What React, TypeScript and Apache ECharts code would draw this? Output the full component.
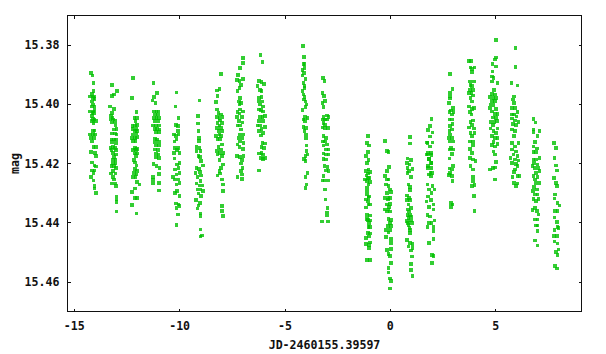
import React, { useEffect, useRef } from "react";
import * as echarts from "echarts";

const xTicks = [-15, -10, -5, 0, 5];
const yTicks = [15.38, 15.4, 15.42, 15.44, 15.46];

const night01 = [[-14.2,15.3894],[-14.14,15.3903],[-14.09,15.3928],[-14.09,15.3956],[-14.15,15.3965],[-14.25,15.3973],[-14.07,15.3973],[-14.12,15.3979],[-14.04,15.3982],[-14.17,15.399],[-14.12,15.4001],[-14.04,15.4007],[-14.17,15.4007],[-14.25,15.4024],[-14.09,15.4024],[-14.04,15.4018],[-14.14,15.4029],[-14.06,15.4029],[-14.17,15.404],[-14.12,15.4049],[-14.04,15.4052],[-14.17,15.4057],[-13.98,15.4057],[-14.09,15.4063],[-14.12,15.4091],[-14.03,15.4088],[-14.25,15.4102],[-14.12,15.4102],[-14.01,15.4102],[-14.2,15.4114],[-14.06,15.4114],[-14.17,15.4125],[-14.09,15.4144],[-13.98,15.4144],[-14.2,15.4162],[-14.01,15.4165],[-13.98,15.4174],[-14.15,15.4196],[-14.04,15.4207],[-13.98,15.421],[-14.15,15.4224],[-14.04,15.4224],[-14.09,15.4232],[-14.2,15.4245],[-14.09,15.4257],[-14.03,15.4277],[-14.03,15.4285],[-13.98,15.4299]];
const night02 = [[-13.2,15.3935],[-12.96,15.3956],[-13.12,15.3967],[-13.2,15.3971],[-13.31,15.4007],[-13.1,15.4016],[-13.2,15.4029],[-13.26,15.404],[-13.18,15.4046],[-13.28,15.4052],[-13.15,15.4052],[-13.2,15.4061],[-13.07,15.4057],[-13.04,15.4069],[-13.1,15.4085],[-12.99,15.4083],[-13.2,15.4099],[-13.07,15.4099],[-12.99,15.4102],[-13.23,15.4119],[-13.1,15.4119],[-13.02,15.4119],[-13.2,15.4128],[-13.02,15.413],[-13.28,15.4147],[-13.15,15.4144],[-13.07,15.4147],[-13.23,15.4155],[-13.02,15.4155],[-13.15,15.4164],[-13.02,15.417],[-13.1,15.4178],[-13.15,15.4187],[-13.04,15.4189],[-13.15,15.4198],[-13.04,15.42],[-13.23,15.4209],[-13.1,15.4209],[-13.02,15.4215],[-13.15,15.4226],[-13.26,15.4234],[-13.04,15.4234],[-13.15,15.4245],[-13.1,15.4254],[-13.23,15.4268],[-13.07,15.4268],[-13.02,15.4277],[-12.99,15.4312],[-12.99,15.4321],[-12.99,15.433],[-12.99,15.4362]];
const night03 = [[-12.2,15.3912],[-12.25,15.3979],[-12.04,15.4027],[-12.15,15.4046],[-12.01,15.4046],[-12.09,15.4057],[-12.23,15.4074],[-12.12,15.4071],[-12.01,15.4069],[-12.2,15.4083],[-12.04,15.4083],[-12.12,15.4091],[-12.01,15.4091],[-12.2,15.4102],[-12.04,15.4099],[-12.25,15.4114],[-12.12,15.4114],[-12.01,15.411],[-12.2,15.4123],[-12.09,15.4123],[-12.12,15.4147],[-12.01,15.4151],[-12.2,15.4155],[-12.07,15.4155],[-12.12,15.4166],[-12.01,15.4166],[-12.07,15.4175],[-12.17,15.4189],[-12.12,15.4196],[-12.04,15.4207],[-12.12,15.4218],[-12.01,15.4226],[-12.17,15.4232],[-12.04,15.4237],[-12.2,15.4245],[-12.09,15.4245],[-12.01,15.4263],[-11.91,15.4271],[-12.12,15.4285],[-12.25,15.4297],[-12.12,15.4317],[-12.01,15.4317],[-12.25,15.4341],[-12.04,15.4369]];
const night04 = [[-11.23,15.3928],[-11.06,15.3962],[-11.21,15.3975],[-11.29,15.3987],[-11.15,15.3996],[-11.21,15.4024],[-11.09,15.4024],[-11.01,15.4024],[-11.17,15.4035],[-11.03,15.4035],[-11.21,15.4046],[-11.09,15.4046],[-10.99,15.4046],[-11.17,15.4057],[-11.01,15.4057],[-11.25,15.4071],[-11.12,15.4071],[-10.99,15.4071],[-11.17,15.4083],[-11.06,15.4083],[-10.96,15.4085],[-11.12,15.4094],[-10.99,15.4094],[-11.17,15.4116],[-11.06,15.4119],[-11.17,15.4128],[-10.99,15.4128],[-11.12,15.4139],[-10.98,15.4139],[-11.17,15.4153],[-11.03,15.4155],[-11.12,15.4166],[-11.01,15.417],[-11.12,15.4178],[-10.98,15.4181],[-11.23,15.4201],[-11.09,15.4209],[-10.96,15.4215],[-10.98,15.4235],[-11.25,15.4245],[-11.25,15.4256],[-11.25,15.4268],[-10.99,15.4266],[-10.99,15.4291]];
const night05 = [[-10.14,15.396],[-10.19,15.4007],[-10.06,15.4047],[-10.17,15.4069],[-10.09,15.4074],[-10.26,15.4102],[-10.09,15.4091],[-10.17,15.4108],[-10.06,15.4102],[-10.25,15.4125],[-10.14,15.4119],[-10.06,15.4147],[-10.22,15.4147],[-10.26,15.4164],[-10.11,15.4155],[-10.01,15.4164],[-10.25,15.4183],[-10.11,15.4203],[-10.01,15.4198],[-10.22,15.422],[-10.06,15.4215],[-10.3,15.4245],[-10.14,15.4237],[-10.01,15.4232],[-10.22,15.4254],[-10.06,15.4254],[-10.14,15.4271],[-10.01,15.4265],[-10.22,15.4299],[-10.11,15.4293],[-10.01,15.431],[-10.17,15.4335],[-10.06,15.4338],[-10.14,15.435],[-10.01,15.4344],[-10.09,15.4372],[-10.14,15.4408]];
const night06 = [[-9.05,15.3987],[-9.14,15.404],[-9.14,15.4065],[-9.11,15.4091],[-9.09,15.4114],[-9.09,15.4123],[-9.19,15.4144],[-9.06,15.4147],[-9,15.4158],[-9.19,15.4158],[-9.11,15.4175],[-9.03,15.4178],[-8.98,15.4192],[-8.9,15.4207],[-9.19,15.4215],[-9.08,15.4218],[-9.24,15.4232],[-9.03,15.4229],[-9.16,15.4245],[-8.98,15.4241],[-9,15.426],[-9.19,15.4268],[-9.06,15.4274],[-8.92,15.4274],[-9.16,15.4288],[-9,15.4288],[-8.9,15.4293],[-9.11,15.4301],[-8.98,15.431],[-9.22,15.4324],[-9.03,15.4333],[-9.11,15.4342],[-9.16,15.4352],[-9,15.4369],[-9,15.4378],[-9,15.4423],[-8.94,15.4443],[-9,15.4447]];
const night07 = [[-8.05,15.3898],[-8.11,15.3948],[-8.24,15.3953],[-8.2,15.3971],[-8.28,15.3992],[-8.24,15.4018],[-8.16,15.4029],[-8.05,15.4035],[-8.24,15.4043],[-8.11,15.4046],[-7.97,15.4043],[-8.08,15.4055],[-8.2,15.4063],[-8,15.4063],[-8.11,15.4072],[-8.24,15.408],[-8.05,15.408],[-8.16,15.4091],[-8,15.4091],[-8.27,15.4108],[-8.11,15.4102],[-8.03,15.4108],[-8.2,15.4117],[-8.08,15.4117],[-8,15.4136],[-8.16,15.4144],[-8.03,15.4153],[-8.24,15.4158],[-8.08,15.4164],[-7.92,15.4164],[-8.2,15.417],[-8,15.4175],[-8.11,15.4189],[-7.95,15.4203],[-8.05,15.4215],[-8.11,15.4226],[-8.2,15.4241],[-8.08,15.4234],[-8,15.4254],[-7.95,15.4271],[-7.95,15.4293],[-8,15.4344],[-8,15.4361],[-7.95,15.4378]];
const night08 = [[-7,15.3844],[-7,15.3861],[-7.13,15.3877],[-7.24,15.39],[-7,15.3915],[-7.29,15.3917],[-7.16,15.3922],[-7.08,15.3934],[-7.16,15.3945],[-7.26,15.3956],[-7.13,15.3979],[-7.18,15.399],[-7.08,15.3996],[-7.16,15.4001],[-7.13,15.4018],[-7.26,15.4027],[-7,15.4024],[-7.16,15.4031],[-7.29,15.4043],[-7.05,15.4043],[-7.18,15.4057],[-7.02,15.4061],[-7.26,15.4072],[-7.13,15.4072],[-7.08,15.4085],[-7.16,15.4102],[-7,15.4102],[-7.21,15.4114],[-7.05,15.4114],[-7.13,15.4125],[-7.26,15.4136],[-6.97,15.413],[-7.16,15.4144],[-7,15.4151],[-7.29,15.4175],[-7.13,15.4178],[-6.97,15.4175],[-7.05,15.4189],[-7.08,15.42],[-7.02,15.4215],[-7.08,15.4226],[-7.26,15.4245],[-7.04,15.4237],[-7.04,15.4252]];
const night09 = [[-6.16,15.3834],[-6.06,15.3858],[-6.23,15.3922],[-6.11,15.3925],[-6,15.3931],[-6.31,15.3939],[-6.19,15.3951],[-6.11,15.3956],[-6.23,15.3979],[-6.11,15.3975],[-6.22,15.399],[-6.06,15.399],[-6.19,15.4001],[-6.03,15.4007],[-6.23,15.4018],[-6.14,15.402],[-6.03,15.4024],[-5.95,15.404],[-6.19,15.4043],[-6.06,15.4043],[-6.23,15.4057],[-6.03,15.4057],[-6.31,15.4072],[-6.19,15.4072],[-5.95,15.4076],[-6.11,15.4083],[-6.22,15.4091],[-6.03,15.4097],[-6.14,15.4106],[-6.06,15.413],[-5.95,15.4133],[-6.11,15.4144],[-6,15.4147],[-6.23,15.4166],[-6.11,15.4164],[-6.03,15.417],[-6.14,15.4181],[-5.95,15.4181],[-6.03,15.4184],[-6.23,15.4224]];
const night10 = [[-4.15,15.3804],[-4.1,15.384],[-4.13,15.3863],[-4.07,15.3863],[-4.08,15.3877],[-4.16,15.3885],[-4.1,15.3894],[-4.16,15.3903],[-4.02,15.3915],[-4.13,15.3928],[-4.07,15.3939],[-4.16,15.3956],[-4.07,15.3945],[-4.13,15.3967],[-4.07,15.3975],[-4.1,15.3984],[-4.02,15.399],[-3.97,15.4001],[-4.02,15.401],[-4.16,15.402],[-4.05,15.4043],[-4.13,15.4052],[-3.94,15.4046],[-4.05,15.4057],[-4.13,15.4076],[-4,15.408],[-4.07,15.4091],[-4,15.4102],[-4,15.4114],[-3.97,15.4139],[-3.97,15.4158],[-3.94,15.417],[-4.02,15.4175],[-4.1,15.4184],[-4.02,15.4192],[-3.94,15.4232],[-4.02,15.4245],[-3.97,15.4271],[-4.02,15.4282]];
const night11 = [[-3.19,15.3911],[-3.13,15.3922],[-3.22,15.3962],[-3.15,15.3971],[-3.1,15.3988],[-3.22,15.3996],[-3.18,15.401],[-3.02,15.4038],[-3.18,15.4043],[-2.94,15.4043],[-3.21,15.4052],[-3.1,15.4052],[-3.02,15.4052],[-3.18,15.4063],[-3.1,15.4069],[-3.22,15.4078],[-2.97,15.408],[-3.1,15.408],[-3.18,15.4108],[-3.05,15.4114],[-3.21,15.4125],[-3.1,15.4125],[-3.18,15.4139],[-3.02,15.4136],[-3.05,15.4153],[-2.94,15.4153],[-3.18,15.4166],[-3.05,15.417],[-2.94,15.417],[-3.18,15.4184],[-3.05,15.4187],[-3.13,15.4209],[-2.99,15.4211],[-3.05,15.4223],[-3.18,15.4243],[-2.94,15.4226],[-3.22,15.4257],[-3.1,15.4257],[-2.94,15.4257],[-3.11,15.4288],[-3.07,15.4321],[-2.99,15.435],[-3.02,15.4366],[-3.02,15.4375],[-3.24,15.4396],[-2.96,15.4396]];
const night12 = [[-1.05,15.4107],[-1.12,15.413],[-1.01,15.4139],[-1.07,15.4162],[-1.15,15.4175],[-1.04,15.4189],[-1.1,15.4198],[-1.04,15.422],[-1.15,15.4226],[-.96,15.4229],[-1.07,15.4234],[-1.2,15.4254],[-1.01,15.4249],[-1.07,15.4249],[-1.13,15.4241],[-1.1,15.426],[-.96,15.4263],[-1.04,15.4271],[-1.12,15.4282],[-1.12,15.4294],[-1.1,15.4305],[-1.01,15.4311],[-1.04,15.4316],[-1.16,15.4322],[-1.07,15.4328],[-.96,15.4339],[-1.04,15.4339],[-1.15,15.4348],[-1.12,15.4373],[-.96,15.4376],[-1.12,15.4388],[-1.07,15.439],[-.96,15.4392],[-1.01,15.4401],[-1.04,15.4415],[-.96,15.4415],[-1.07,15.4435],[-.96,15.4437],[-1.15,15.4452],[-1.01,15.4446],[-.96,15.4467],[-1.15,15.4471],[-1.01,15.4475],[-1.01,15.4486],[-1.1,15.4525],[-.98,15.4525]];
const night13 = [[-.25,15.4124],[-.17,15.4158],[-.09,15.4162],[-.06,15.4212],[-.17,15.4226],[-.25,15.4243],[-.17,15.4254],[-.09,15.4254],[-.2,15.4271],[-.09,15.4275],[-.01,15.4288],[-.17,15.4299],[.04,15.4297],[-.25,15.4316],[-.09,15.4316],[-.01,15.4316],[-.12,15.4322],[-.17,15.4339],[-.01,15.4336],[-.06,15.4347],[-.25,15.4356],[-.09,15.4356],[-.17,15.4362],[-.01,15.4362],[-.09,15.4388],[.04,15.439],[-.01,15.4401],[-.12,15.4412],[.04,15.4412],[-.22,15.4424],[-.01,15.4424],[-.09,15.4433],[-.2,15.4449],[.04,15.4455],[.04,15.4469],[-.17,15.4492],[.04,15.4489],[-.09,15.4505],[-.01,15.4512],[.04,15.4537],[-.09,15.4554],[-.09,15.4568],[-.01,15.4588],[.04,15.4596],[-.01,15.4622]];
const night14 = [[.94,15.411],[.94,15.4132],[.81,15.4183],[.99,15.4189],[.78,15.4198],[.91,15.4203],[.81,15.4215],[1.05,15.4218],[.89,15.4226],[.81,15.4232],[.99,15.4246],[.86,15.4271],[.94,15.4279],[.94,15.429],[.78,15.4308],[.89,15.4316],[.78,15.4324],[.94,15.4324],[.86,15.4339],[.99,15.435],[.83,15.4356],[.89,15.4362],[.81,15.4373],[.94,15.4373],[.99,15.4381],[.86,15.4384],[.99,15.4392],[.78,15.4395],[.83,15.4401],[1.02,15.4401],[.86,15.4407],[.91,15.4418],[.94,15.4424],[.94,15.4435],[.78,15.4458],[.94,15.4469],[1.05,15.4471],[.86,15.448],[1.05,15.4486],[.97,15.4494],[1.02,15.4514],[.97,15.454],[.97,15.4559],[1.05,15.458]];
const night15 = [[1.95,15.405],[1.87,15.4073],[1.79,15.4086],[2,15.4095],[1.87,15.4109],[1.74,15.4129],[2,15.4129],[1.87,15.4143],[1.79,15.4165],[1.95,15.4171],[1.84,15.4185],[1.95,15.4199],[1.79,15.4216],[1.9,15.4231],[1.77,15.413],[1.8,15.4169],[1.93,15.4164],[1.72,15.4169],[1.83,15.4184],[1.93,15.4198],[1.8,15.4209],[1.96,15.4215],[1.99,15.4232],[1.83,15.4237],[1.93,15.4243],[1.77,15.4271],[2,15.4277],[1.83,15.4288],[2.09,15.4288],[1.96,15.4299],[1.8,15.4311],[1.72,15.4328],[1.93,15.4324],[2.04,15.4339],[1.83,15.4347],[2.04,15.4356],[1.77,15.4373],[1.88,15.4379],[2.09,15.4392],[1.83,15.4401],[1.96,15.4401],[1.77,15.4415],[2.04,15.4415],[2.04,15.4429],[2.04,15.4455],[1.83,15.4469],[1.99,15.451],[2.04,15.4512],[1.99,15.4537]];
const night16 = [[2.84,15.3898],[2.95,15.3948],[2.84,15.3962],[2.84,15.3973],[2.84,15.3981],[2.79,15.3996],[2.96,15.4012],[2.87,15.4021],[2.81,15.4026],[2.99,15.4026],[2.92,15.4035],[2.81,15.4052],[2.92,15.4052],[2.95,15.4066],[2.84,15.4074],[2.81,15.4091],[2.92,15.4085],[2.84,15.4102],[2.79,15.4114],[2.92,15.4114],[2.96,15.4125],[2.81,15.4125],[2.87,15.4147],[2.81,15.4153],[2.96,15.4153],[2.92,15.4168],[2.81,15.4183],[2.96,15.4209],[2.81,15.4217],[2.92,15.422],[2.84,15.4232],[2.79,15.4239],[2.92,15.4243],[2.95,15.426],[2.87,15.4333],[2.95,15.4338],[2.89,15.4346]];
const night17 = [[3.72,15.3854],[3.83,15.3854],[3.8,15.3875],[4,15.3875],[3.88,15.3881],[3.88,15.3891],[3.77,15.3923],[3.97,15.3923],[3.8,15.3934],[3.88,15.3939],[3.77,15.3951],[3.93,15.3951],[3.72,15.3962],[3.85,15.3962],[3.93,15.397],[3.8,15.3979],[3.88,15.399],[3.74,15.4007],[3.88,15.4015],[3.97,15.4012],[3.77,15.4026],[3.85,15.4035],[3.8,15.406],[3.93,15.4055],[3.88,15.4069],[3.74,15.4078],[3.97,15.4082],[3.8,15.4097],[4,15.4097],[3.88,15.4108],[3.77,15.4125],[3.93,15.4125],[3.93,15.4138],[3.77,15.415],[3.88,15.4164],[3.77,15.4181],[3.93,15.4187],[4.04,15.4192],[3.8,15.4209],[3.93,15.422],[3.93,15.4246],[3.93,15.426],[3.88,15.4277],[4,15.4273],[3.96,15.431],[4,15.4361]];
const night18 = [[5.02,15.3783],[5.02,15.3842],[4.97,15.3849],[4.84,15.3864],[5.02,15.3872],[4.84,15.3889],[4.81,15.3906],[4.89,15.3911],[4.81,15.3923],[5.08,15.3928],[4.92,15.3951],[4.81,15.3965],[4.97,15.3967],[4.73,15.3976],[4.89,15.3979],[5.02,15.3979],[4.81,15.3988],[4.97,15.3988],[4.76,15.4001],[4.89,15.4003],[4.73,15.4012],[5.02,15.4015],[4.81,15.4024],[4.97,15.4033],[5.08,15.4033],[4.86,15.4044],[5.02,15.4046],[4.76,15.406],[4.92,15.406],[5.05,15.4057],[4.86,15.4069],[4.76,15.4082],[5.08,15.4082],[4.89,15.4091],[5.02,15.4097],[4.81,15.4108],[4.97,15.4114],[5.08,15.4114],[4.89,15.4127],[5.08,15.4134],[4.81,15.4138],[4.97,15.4142],[4.89,15.4159],[4.97,15.417],[5.02,15.4195],[4.97,15.4213],[4.86,15.4215],[4.73,15.422],[4.97,15.4254]];
const night19 = [[5.93,15.381],[5.93,15.3874],[5.74,15.3928],[6.03,15.3936],[5.87,15.3973],[5.81,15.3984],[5.87,15.3996],[5.76,15.4012],[5.92,15.4012],[6.03,15.4026],[5.76,15.4035],[5.87,15.4035],[5.99,15.4041],[5.76,15.4048],[5.92,15.4055],[6.08,15.406],[5.81,15.4066],[5.96,15.4069],[5.76,15.4085],[5.92,15.4091],[5.87,15.4108],[6.08,15.413],[5.76,15.413],[5.92,15.4142],[5.76,15.4153],[5.96,15.4159],[5.84,15.417],[6.03,15.4175],[5.71,15.4181],[5.92,15.4187],[6.08,15.419],[5.76,15.4198],[5.96,15.4201],[6.03,15.4209],[5.92,15.422],[5.87,15.4228],[5.79,15.4246],[6.03,15.4243],[6.12,15.4243],[5.87,15.4265],[6.03,15.4268],[5.95,15.4277]];
const night20 = [[6.79,15.4049],[6.89,15.4061],[6.79,15.4085],[6.79,15.4093],[7.08,15.4091],[6.98,15.4108],[6.87,15.4128],[6.79,15.4142],[6.95,15.4149],[6.79,15.4162],[6.92,15.4162],[7.08,15.4181],[6.79,15.4187],[6.92,15.4187],[6.82,15.4198],[6.98,15.4203],[6.74,15.4209],[6.87,15.4215],[7.03,15.4215],[7.08,15.4226],[6.92,15.4232],[6.79,15.4243],[6.98,15.4245],[6.87,15.4254],[7.08,15.4265],[6.92,15.4265],[6.82,15.4279],[6.95,15.4288],[6.76,15.4293],[6.87,15.4305],[6.98,15.4305],[6.79,15.4319],[7.03,15.4319],[6.92,15.4327],[6.74,15.4357],[6.87,15.435],[6.95,15.4361],[7.03,15.4372],[6.87,15.4389],[6.98,15.4389],[6.92,15.4409],[6.98,15.4409],[6.98,15.4428],[6.87,15.446],[6.98,15.4477]];
const night21 = [[7.77,15.413],[7.85,15.4147],[7.79,15.4181],[7.85,15.4207],[7.9,15.4223],[7.77,15.4248],[7.85,15.4265],[7.9,15.4277],[7.82,15.4305],[7.79,15.4318],[7.93,15.4333],[8.03,15.4342],[7.82,15.4361],[7.93,15.4361],[7.79,15.4383],[7.9,15.4398],[7.93,15.4414],[7.79,15.4425],[7.98,15.4417],[7.77,15.4445],[7.9,15.4445],[7.79,15.4464],[7.93,15.447],[7.98,15.449],[7.87,15.4499],[7.93,15.451],[7.82,15.4546],[7.9,15.4555]];

const allNights = [night01, night02, night03, night04, night05, night06, night07, night08, night09, night10, night11, night12, night13, night14, night15, night16, night17, night18, night19, night20, night21];

const FONT = "'DejaVu Sans Mono'";
const INK = "#111111";

export default function App() {
  const ref = useRef<HTMLDivElement>(null);
  useEffect(() => {
    document.body.style.margin = "0";
    const chart = echarts.init(ref.current!, null, { renderer: "svg" });
    const labelStyle = { fontFamily: FONT, fontWeight: "bold" as const, fontSize: 11.6, color: INK };
    const line = { show: true, onZero: false, lineStyle: { color: INK, width: 1 } };
    chart.setOption({
      animation: false,
      backgroundColor: "#ffffff",
      grid: { left: 67.5, right: 24.5, top: 15.5, bottom: 42.5, containLabel: false, outerBoundsMode: "none" },
      xAxis: [
        {
          type: "value", min: -15.32, max: 9.07, position: "bottom",
          name: "JD-2460155.39597", nameLocation: "middle", nameGap: 27, nameMoveOverlap: false,
          nameTextStyle: labelStyle,
          splitLine: { show: false }, axisLine: line,
          axisTick: { show: true, inside: true, length: 3, customValues: xTicks, lineStyle: { color: INK } },
          axisLabel: { ...labelStyle, margin: 8, customValues: xTicks, formatter: (v: number) => String(v) },
        },
        {
          type: "value", min: -15.32, max: 9.07, position: "top",
          splitLine: { show: false }, axisLine: line,
          axisTick: { show: true, inside: true, length: 3, customValues: xTicks, lineStyle: { color: INK } },
          axisLabel: { show: false },
        },
      ],
      yAxis: [
        {
          type: "value", inverse: true, min: 15.37, max: 15.47, position: "left",
          name: "mag", nameLocation: "middle", nameGap: 46.5, nameRotate: 90, nameMoveOverlap: false,
          nameTextStyle: labelStyle,
          splitLine: { show: false }, axisLine: line,
          axisTick: { show: true, inside: true, length: 3, customValues: yTicks, lineStyle: { color: INK } },
          axisLabel: { ...labelStyle, margin: 8, customValues: yTicks, formatter: (v: number) => v.toFixed(2) },
        },
        {
          type: "value", inverse: true, min: 15.37, max: 15.47, position: "right",
          splitLine: { show: false }, axisLine: line,
          axisTick: { show: true, inside: true, length: 3, customValues: yTicks, lineStyle: { color: INK } },
          axisLabel: { show: false },
        },
      ],
      series: [
        {
          type: "scatter",
          data: allNights.flat(),
          symbol: "rect",
          symbolSize: 3.6,
          itemStyle: { color: "#00c000" },
          silent: true,
        },
      ],
    });
    return () => chart.dispose();
  }, []);
  return <div ref={ref} style={{ width: 606, height: 354, shapeRendering: "crispEdges" }} />;
}
